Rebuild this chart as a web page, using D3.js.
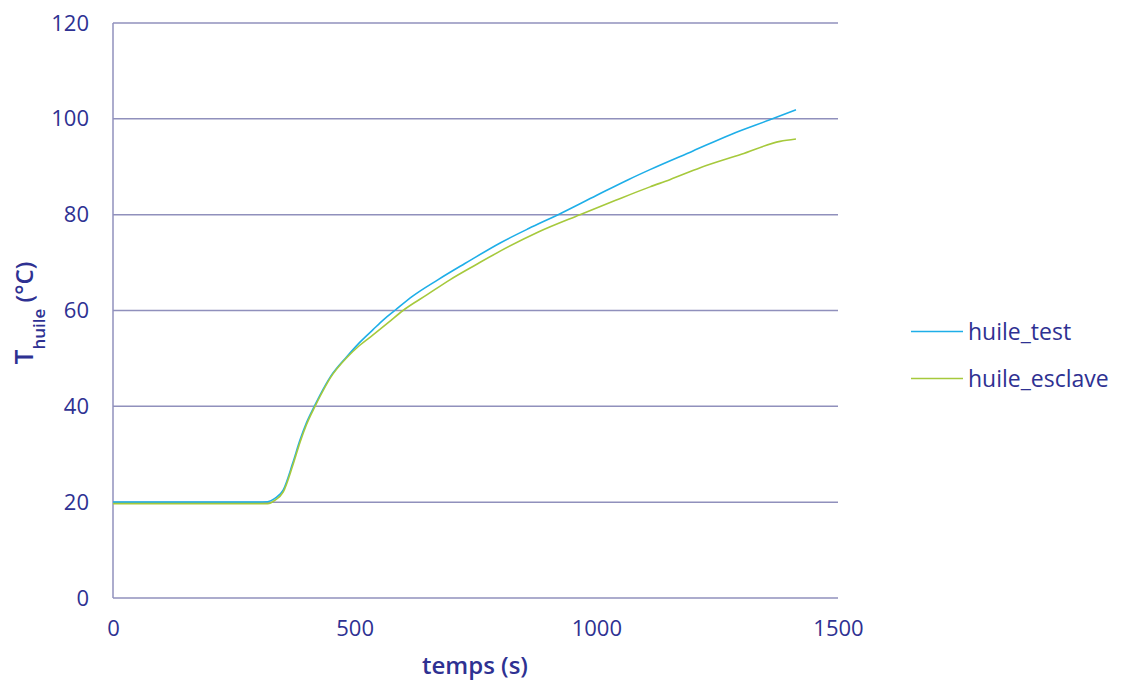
<!DOCTYPE html>
<html><head><meta charset="utf-8">
<script src="https://cdn.jsdelivr.net/npm/d3@7"></script>
<style>body{margin:0;background:#fff}</style>
</head><body>
<svg id="c" width="1131" height="684"></svg>
<script>
const seriesNames = ["huile_test", "huile_esclave"];
const testTime = [0,100,200,300,320,335,352,372,387,400,418,428,450,484,510,538,560,583,620,672,728,801,860,921,1000,1066,1111,1200,1280,1359,1413];
const testTemp = [20,20,20,20,20.1,20.8,22.5,28.2,33,36.5,40.3,42.3,46.2,50.4,53.3,56,58.1,60,63,66.4,69.8,74.1,77.1,80,84,87.3,89.4,93.3,96.8,99.8,101.9];
const esclTime = [0,100,200,300,320,335,352,372,387,400,418,428,450,484,510,538,570,600,650,697,750,801,880,966,1040,1111,1152,1215,1300,1380,1413];
const esclTemp = [19.7,19.7,19.7,19.7,19.7,20.4,22.1,27.7,32.5,36.1,40,42,46,50.2,52.7,54.9,57.5,60,63.3,66.4,69.5,72.4,76.4,80,83,85.8,87.3,89.8,92.6,95.3,95.8];
const xTicks = [0,500,1000,1500];
const yTicks = [0,20,40,60,80,100,120];
const colors = ["#1eaee8", "#a6c93c"];

const svg = d3.select("#c");
const textColor = "#2e3192";
const gridColor = "#9090bc";
const font = "'Open Sans', sans-serif";
const x = d3.scaleLinear().domain([0,1500]).range([113,838]);
const y = d3.scaleLinear().domain([0,120]).range([598,23]);

// gridlines
svg.append("g").selectAll("line").data(yTicks).join("line")
  .attr("x1",113).attr("x2",838)
  .attr("y1",d=>y(d)).attr("y2",d=>y(d))
  .attr("stroke",gridColor).attr("stroke-width",1.5);
svg.append("line").attr("x1",113).attr("x2",113).attr("y1",y(120)).attr("y2",y(0))
  .attr("stroke",gridColor).attr("stroke-width",1.5);

// y tick labels
const yAxis = d3.axisLeft(y).tickValues(yTicks).tickSize(0).tickPadding(0).tickFormat(d3.format("d"));
const gy = svg.append("g").attr("transform","translate(89,0)").call(yAxis);
gy.select(".domain").remove();
gy.selectAll("text").attr("fill",textColor).style("font-family",font).style("font-size","22px");

// x tick labels
const xAxis = d3.axisBottom(x).tickValues(xTicks).tickSize(0).tickPadding(0).tickFormat(d3.format("d"));
const gx = svg.append("g").attr("transform","translate(0,620)").call(xAxis);
gx.select(".domain").remove();
gx.selectAll("text").attr("fill",textColor).style("font-family",font).style("font-size","22px");

// lines
const line = d3.line().x(d=>x(d[0])).y(d=>y(d[1])).curve(d3.curveMonotoneX);
const data = [d3.zip(testTime,testTemp), d3.zip(esclTime,esclTemp)];
svg.append("g").selectAll("path").data(data).join("path")
  .attr("d",line).attr("fill","none")
  .attr("stroke",(d,i)=>colors[i]).attr("stroke-width",1.6);

// axis titles
svg.append("text").attr("x",475).attr("y",674).attr("text-anchor","middle")
  .attr("fill",textColor).style("font-family",font).style("font-size","24px").style("font-weight","600")
  .text("temps (s)");
const yt = svg.append("text").attr("transform","translate(33,313) rotate(-90)").attr("text-anchor","middle")
  .attr("fill",textColor).style("font-family",font).style("font-weight","600");
yt.append("tspan").style("font-size","26px").text("T");
yt.append("tspan").style("font-size","17px").attr("dy",12).text("huile");
yt.append("tspan").style("font-size","24px").attr("dy",-12).text(" (°C)");

// legend
const lg = svg.append("g").selectAll("g").data(seriesNames).join("g")
  .attr("transform",(d,i)=>`translate(911,${331.5+i*47})`);
lg.append("line").attr("x1",0).attr("x2",52).attr("stroke",(d,i)=>colors[i]).attr("stroke-width",1.6);
lg.append("text").attr("x",57).attr("y",8.5).attr("fill",textColor)
  .style("font-family",font).style("font-size","23px").text(d=>d);
</script>
</body></html>
